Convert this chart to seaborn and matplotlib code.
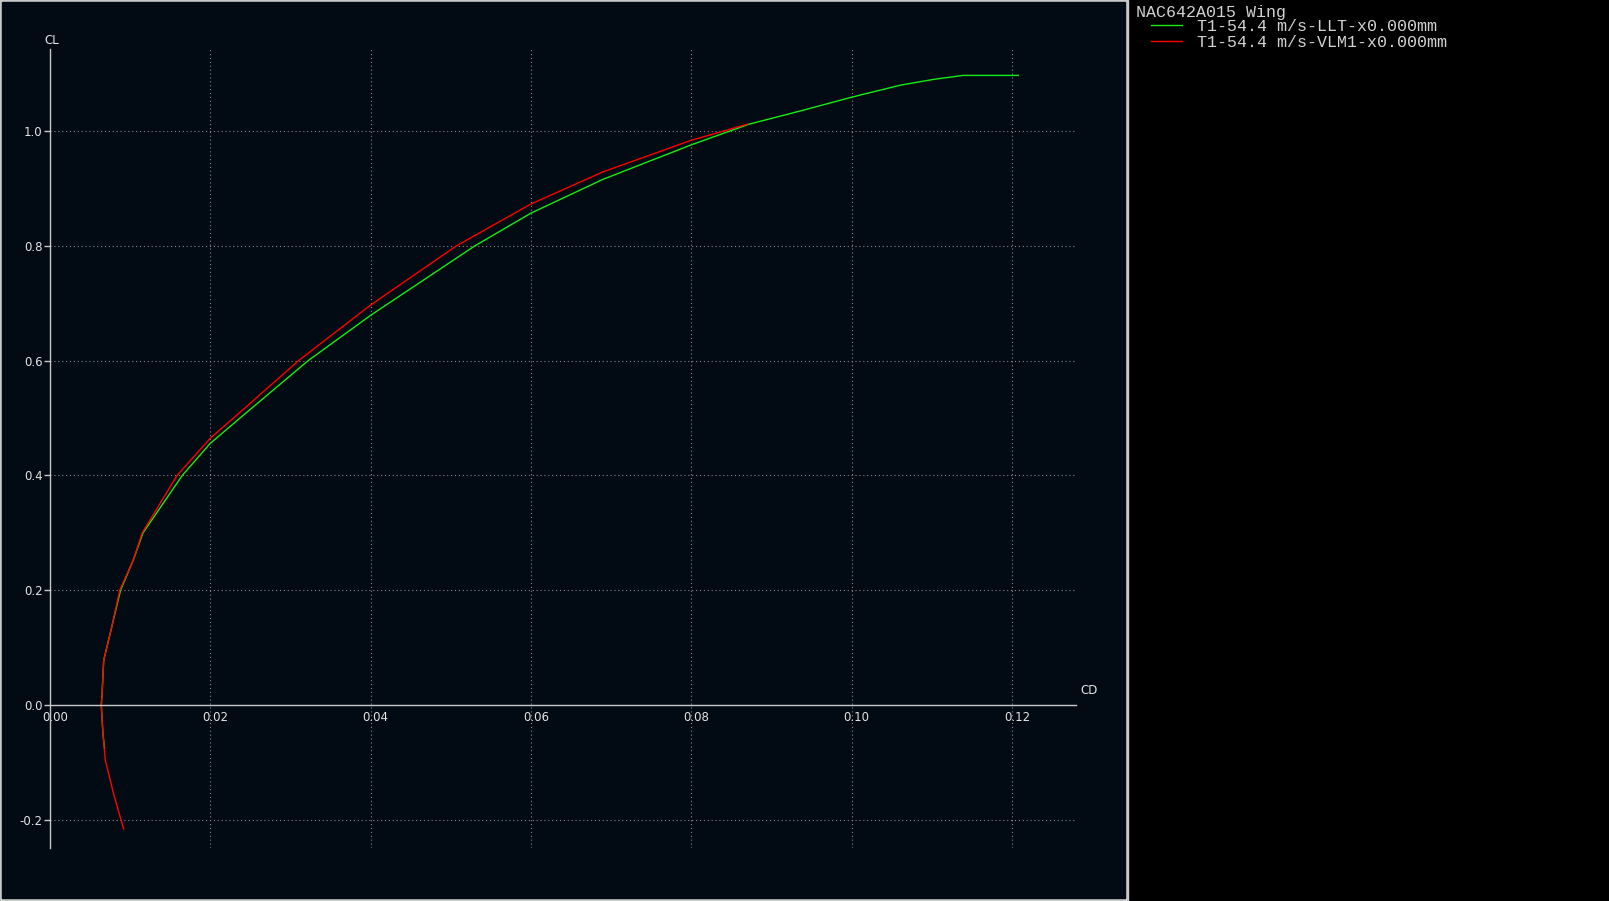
import numpy as np
import seaborn as sns
import matplotlib.pyplot as plt
from matplotlib.patches import Rectangle
from matplotlib.transforms import ScaledTranslation

# polar curves
llt_cd = [0.0068, 0.0066, 0.0064, 0.0065, 0.0067, 0.0077, 0.0088, 0.0104, 0.0116,
          0.0165, 0.0200, 0.0237, 0.0322, 0.0400, 0.0530, 0.0600, 0.0690, 0.0800,
          0.0872, 0.0936, 0.1000, 0.1061, 0.1102, 0.1139, 0.1208]
llt_cl = [-0.075, -0.049, 0.000, 0.021, 0.078, 0.136, 0.200, 0.253, 0.300,
          0.400, 0.456, 0.500, 0.600, 0.679, 0.800, 0.857, 0.916, 0.976,
          1.012, 1.035, 1.059, 1.080, 1.090, 1.097, 1.097]

vlm_cd = [0.0092, 0.00886, 0.0079, 0.0069, 0.0066, 0.0064, 0.0065, 0.0067, 0.0077,
          0.0087, 0.0104, 0.0115, 0.01585, 0.0200, 0.0237, 0.0310, 0.0400, 0.0507,
          0.0600, 0.0690, 0.0800, 0.0870]
vlm_cl = [-0.216, -0.200, -0.153, -0.096, -0.049, 0.000, 0.021, 0.078, 0.136,
          0.200, 0.253, 0.300, 0.400, 0.465, 0.510, 0.600, 0.697, 0.800,
          0.873, 0.929, 0.984, 1.012]

wing_name = 'NAC642A015 Wing'
llt_label = 'T1-54.4 m/s-LLT-x0.000mm'
vlm_label = 'T1-54.4 m/s-VLM1-x0.000mm'
cd_ticks = [0.00, 0.02, 0.04, 0.06, 0.08, 0.10, 0.12]
cl_ticks = [-0.2, 0.0, 0.2, 0.4, 0.6, 0.8, 1.0]

W, H = 1609, 901
navy = '#020a14'
frame = '#c8c8c8'
txt = '#e4e4e4'

fig = plt.figure(figsize=(W / 100, H / 100), dpi=100)
fig.patch.set_facecolor('#000000')
# grey frame + dark graph panel on the left, black legend panel on the right
fig.add_artist(Rectangle((0, 0), 1128 / W, 1, transform=fig.transFigure,
                         color=frame, zorder=-10))
fig.add_artist(Rectangle((2 / W, 3 / H), 1123 / W, 896 / H, transform=fig.transFigure,
                         color=navy, zorder=-9))

ax = fig.add_axes([50 / W, (H - 848) / H, 1026 / W, 799 / H])
ax.patch.set_alpha(0)

sns.lineplot(x=llt_cd, y=llt_cl, sort=False, estimator=None, color='#14ee14',
             lw=1.0, ax=ax, label=llt_label)
sns.lineplot(x=vlm_cd, y=vlm_cl, sort=False, estimator=None, color='#ff0000',
             lw=1.0, ax=ax, label=vlm_label)

ax.set_xlim(0, 0.128)
ax.set_ylim(-0.249, 1.143)
ax.set_xlabel('')
ax.set_ylabel('')

for s in ['top', 'right']:
    ax.spines[s].set_visible(False)
ax.spines['bottom'].set_position(('data', 0))
for s in ['left', 'bottom']:
    ax.spines[s].set_color(frame)
    ax.spines[s].set_linewidth(1.0)

ax.set_xticks(cd_ticks)
ax.set_xticklabels([f'{v:.2f}' for v in cd_ticks])
ax.set_yticks(cl_ticks)
ax.set_yticklabels([f'{v:.1f}' for v in cl_ticks])
ax.tick_params(axis='x', length=0, pad=4, labelsize=8.5, labelcolor=txt)
ax.tick_params(axis='y', length=4.3, width=1.0, color=frame, pad=1,
               labelsize=8.5, labelcolor=txt)
# x labels sit a few pixels right of their gridline in the original
shift = ScaledTranslation(5 / 100, 0, fig.dpi_scale_trans)
for lab in ax.get_xticklabels():
    lab.set_transform(lab.get_transform() + shift)

ax.grid(True, ls=(0, (1, 2.5)), color='#8a8a8a', lw=0.8)
ax.set_axisbelow(True)

ax.annotate('CL', xy=(0, 1), xycoords='axes fraction', xytext=(2, 8),
            textcoords='offset pixels', ha='center', va='center',
            fontsize=8.5, color=txt)
ax.annotate('CD', xy=(1, 0), xycoords=('axes fraction', 'data'), xytext=(13, 15),
            textcoords='offset pixels', ha='center', va='center',
            fontsize=8.5, color=txt)

handles, labels = ax.get_legend_handles_labels()
ax.get_legend().remove()
mono = {'family': 'Liberation Mono', 'size': 12}
fig.text(1136 / W, 1 - 12.5 / H, wing_name, ha='left', va='center',
         fontdict=mono, color='#d2d2d2')
leg = fig.legend(handles, labels, loc='upper left', bbox_to_anchor=(1151 / W, 1 - 19 / H),
                 frameon=False, prop=mono, handlelength=1.86, handletextpad=0.9,
                 labelspacing=0.05, borderpad=0, borderaxespad=0)
for t in leg.get_texts():
    t.set_color('#d2d2d2')

fig.savefig('out.png', dpi=100, facecolor=fig.get_facecolor())
